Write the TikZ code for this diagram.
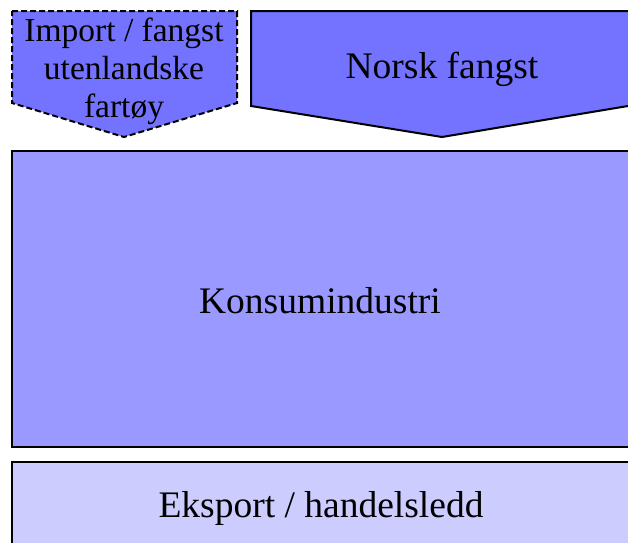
\documentclass[tikz,border=0pt]{standalone}
\usepackage{fontspec}
\setmainfont{Liberation Serif}
\begin{document}
\begin{tikzpicture}[x=1pt,y=-1pt,
  shapeline/.style={draw=black,line width=2pt,line join=miter},
  lbl/.style={inner sep=0pt,align=center,text=black}]
\definecolor{fangstblue}{RGB}{115,115,255}
\definecolor{konsumblue}{RGB}{153,153,255}
\definecolor{eksportblue}{RGB}{204,204,255}
\useasboundingbox (0,0) rectangle (628,542);
\clip (0,0) rectangle (628,542);
\fill[white] (0,0) rectangle (628,542);
% left pentagon (dashed)
\path[shapeline,dash pattern=on 6pt off 3pt,fill=fangstblue]
  (12,11) -- (237,11) -- (237,103) -- (124,137) -- (12,103) -- cycle;
% right pentagon
\path[shapeline,fill=fangstblue]
  (251,11) -- (640,11) -- (640,104) -- (442,137) -- (251,106) -- cycle;
% Konsumindustri box
\path[shapeline,fill=konsumblue] (12,151) rectangle (640,447);
% Eksport box
\path[shapeline,fill=eksportblue] (12,462) rectangle (640,560);
% labels
\node[lbl,font=\fontsize{33.5}{38}\selectfont] (import) at (124,71) {Import / fangst\\utenlandske\\fartøy};
\node[lbl,font=\fontsize{37.5}{42}\selectfont] (norsk) at (442,69) {Norsk fangst};
\node[lbl,font=\fontsize{37.5}{42}\selectfont] (konsum) at (320,301) {Konsumindustri};
\node[lbl,font=\fontsize{37.5}{42}\selectfont] (eksport) at (321,508) {Eksport / handelsledd};
\end{tikzpicture}
\end{document}
